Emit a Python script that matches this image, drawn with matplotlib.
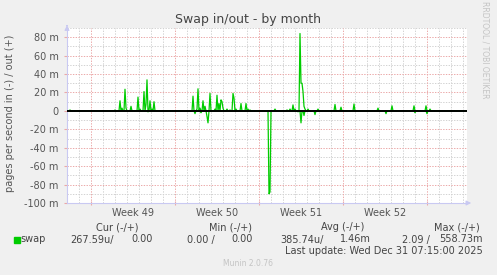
import numpy as np
import matplotlib
matplotlib.use("Agg")
import matplotlib.pyplot as plt
from matplotlib.transforms import blended_transform_factory

# ---- data (2-hour samples, index from graph start; values in milli pages/s) ----
n_samples = 400
samples_per_day = 12
out_idx = [3, 48, 53, 55, 58, 59, 64, 71, 73, 77, 79, 80, 83, 85, 87,
           126, 130, 131, 133, 136, 138, 143, 148, 150, 152, 154, 155, 156,
           160, 163, 166, 167, 169, 174, 179, 181, 183,
           208, 220, 223, 226, 228, 233, 234, 235, 236, 237, 238, 241, 251,
           268, 274, 287, 311, 325, 347, 359, 363]
out_val = [1.0, 1.0, 11, 3, 23.5, 3, 5, 15, 2, 21, 7, 33.7, 11, 2, 10,
           16, 2, 24, 3, 11, 5, 19, 2, 17, 8, 12, 10, 3,
           2, 1, 19, 14, 2, 8, 8, 2, 1,
           2, 1, 2, 6.5, 2, 84, 30, 30, 21, 5, 2, 2, 2,
           7, 4, 7.5, 3, 5.5, 5.5, 5.5, 2]
in_idx = [81, 128, 134, 140, 141, 202, 203, 231, 234, 237, 248, 319, 348, 360]
in_val = [1, 3, 2, 6, 13, 90, 88, 1, 13, 5, 4, 3, 2, 3]

y_ticks = [80, 60, 40, 20, 0, -20, -40, -60, -80, -100]
y_labels = ["80 m", "60 m", "40 m", "20 m", "0", "-20 m", "-40 m", "-60 m", "-80 m", "-100 m"]
week_labels = ["Week 49", "Week 50", "Week 51", "Week 52"]
week_starts = [2, 9, 16, 23, 30]

legend_heads = ["Cur (-/+)", "Min (-/+)", "Avg (-/+)", "Max (-/+)"]
legend_vals = ["267.59u/", "0.00", "0.00 /", "0.00", "385.74u/", "1.46m", "2.09 /", "558.73m"]

# ---- build series ----
t = np.arange(n_samples) / samples_per_day
swap_out = np.zeros(n_samples)
swap_in = np.zeros(n_samples)
swap_out[out_idx] = out_val
swap_in[in_idx] = in_val

W, H = 497, 275
fig = plt.figure(figsize=(W / 100, H / 100), dpi=100, facecolor="#F0F0F0")
ax = fig.add_axes([67 / W, (H - 203) / H, 400 / W, 175 / H], facecolor="white")

xmax = n_samples / samples_per_day
ax.set_xlim(0, xmax)
ax.set_ylim(-100, 90)

grid_grey = "#D2D2D2"
grid_red = "#EBA8A8"
dot = (0, (1.4, 1.4))
# minor grids
for d in range(0, int(xmax) + 1):
    if d not in week_starts:
        ax.axvline(d, color=grid_grey, lw=0.7, ls=dot, zorder=1)
for yv in range(-90, 91, 20):
    ax.axhline(yv, color=grid_grey, lw=0.7, ls=dot, zorder=1)
# major grids
for d in week_starts:
    ax.axvline(d, color=grid_red, lw=0.7, ls=dot, zorder=1.5)
for yv in y_ticks:
    ax.axhline(yv, color=grid_red, lw=0.7, ls=dot, zorder=1.5)

green = "#00CC00"
ax.plot(t, swap_out, color=green, lw=0.9, zorder=3)
ax.plot(t, -swap_in, color=green, lw=0.9, zorder=3)
ax.axhline(0, color="black", lw=1.4, zorder=5)

for s in ["top", "right"]:
    ax.spines[s].set_visible(False)
axis_col = "#C9C9F2"
for s in ["left", "bottom"]:
    ax.spines[s].set_color(axis_col)
    ax.spines[s].set_linewidth(0.8)

ax.set_yticks(y_ticks)
ax.set_yticklabels(y_labels)
ax.set_xticks(week_starts)
ax.set_xticklabels([])
ax.tick_params(axis="y", colors=grid_red, labelcolor="#555555", labelsize=7, length=2, pad=4)
ax.tick_params(axis="x", colors=grid_red, length=3, direction="inout")

# arrows
ax.annotate("", xy=(0, 96), xytext=(0, 89.5), xycoords="data",
            arrowprops=dict(arrowstyle="-|>", color=axis_col, lw=0.8, mutation_scale=7),
            annotation_clip=False)
ax.annotate("", xy=(xmax + 0.35, -100), xytext=(xmax - 0.1, -100), xycoords="data",
            arrowprops=dict(arrowstyle="-|>", color=axis_col, lw=0.8, mutation_scale=7),
            annotation_clip=False)

trans = blended_transform_factory(ax.transData, fig.transFigure)
for i, lab in enumerate(week_labels):
    ax.text(week_starts[i] + 3.5, 1 - 213 / H, lab, transform=trans, ha="center", va="center",
            fontsize=7, color="#555555")

def ft(x, y, s, **kw):
    fig.text(x / W, 1 - y / H, s, **kw)

ft(248, 20, "Swap in/out - by month", ha="center", va="center", fontsize=9, color="#444444")
ft(10, 113, "pages per second in (-) / out (+)", ha="center", va="center", rotation=90,
   fontsize=7, color="#555555")
ft(485, 50, "RRDTOOL / TOBI OETIKER", ha="center", va="center", rotation=270,
   fontsize=5.5, color="#C4C4C4")

txt = dict(va="center", fontsize=7, color="#444444")
head_x = [138, 252, 364, 480]
for x, s in zip(head_x, legend_heads):
    ft(x, 227, s, ha="right", **txt)
fig.patches.append(matplotlib.patches.Rectangle((14 / W, 1 - 242.5 / H), 5.5 / W, 5.5 / H,
                                                transform=fig.transFigure, color=green))
ft(20, 239.5, "swap", ha="left", **txt)
val_x = [114, 152.5, 214.5, 252.5, 323.5, 371, 429.5, 483]
for x, s in zip(val_x, legend_vals):
    ft(x, 239.5, s, ha="right", **txt)
ft(482.5, 251.5, "Last update: Wed Dec 31 07:15:00 2025", ha="right", **txt)
ft(248, 263, "Munin 2.0.76", ha="center", va="center", fontsize=5.5, color="#C4C4C4")

fig.savefig("out.png", dpi=100, facecolor=fig.get_facecolor())
